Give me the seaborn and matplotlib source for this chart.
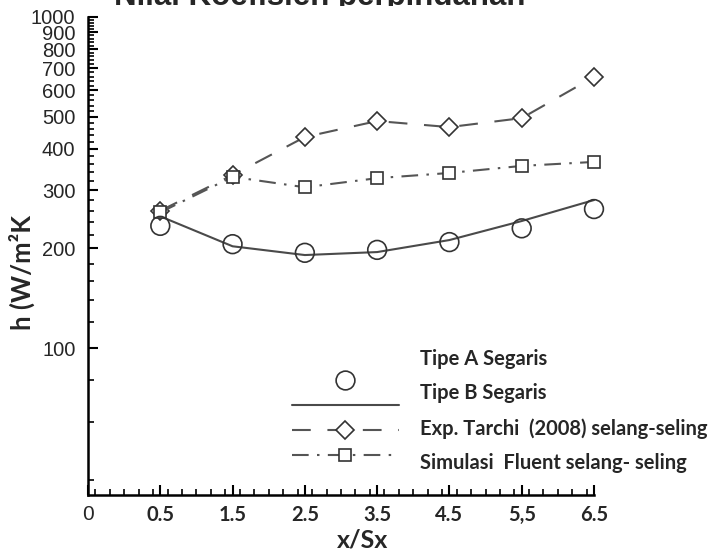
import numpy as np
import matplotlib
matplotlib.use("Agg")
import matplotlib.pyplot as plt
from matplotlib.lines import Line2D
from matplotlib.transforms import Bbox, TransformedBbox
import matplotlib.ticker as mticker
import seaborn as sns

# ---------------- data ----------------
x_vals = [0.5, 1.5, 2.5, 3.5, 4.5, 5.5, 6.5]
tipe_a = [234, 206, 194, 198, 209, 230, 263]          # circles
tipe_b = [250, 203, 191, 195, 212, 242, 280]          # solid line
tarchi = [260, 333, 434, 485, 465, 495, 659]          # diamonds, dashed
fluent = [257, 329, 306, 326, 338, 355, 365]          # squares, dash-dot
tick_pos = [-0.5, 0.5, 1.5, 2.5, 3.5, 4.5, 5.5, 6.5]
tick_labels = ["0", "0.5", "1.5", "2.5", "3.5", "4.5", "5,5", "6.5"]
y_major = [100, 200, 300, 400, 500, 600, 700, 800, 900, 1000]
labels = ["Tipe A Segaris", "Tipe B Segaris",
          "Exp. Tarchi  (2008) selang-seling", "Simulasi  Fluent selang- seling"]
title = "Nilai Koefisien perpindahan"

sns.set_style("ticks")
plt.rcParams['font.family'] = ['Lato', 'DejaVu Sans']

W, H = 714, 556
fig = plt.figure(figsize=(W / 100, H / 100), dpi=100)
ax = fig.add_axes([88 / W, 1 - 495 / H, (594 - 88) / W, (495 - 17) / H])

line_col = "#4a4a4a"
edge_col = "#333333"

sns.scatterplot(x=x_vals, y=tipe_a, ax=ax, marker="o", s=13.5 ** 2,
                facecolor="none", edgecolor=edge_col, linewidth=1.2,
                clip_on=False, zorder=4)
sns.lineplot(x=x_vals, y=tipe_b, ax=ax, color=line_col, linewidth=1.5,
             clip_on=False, zorder=3)
sns.lineplot(x=x_vals, y=tarchi, ax=ax, color="#555555", linewidth=1.5,
             linestyle=(0, (9, 8)), marker="D", markersize=9.5,
             markerfacecolor="white", markeredgecolor=edge_col,
             markeredgewidth=1.2, clip_on=False, zorder=3)
sns.lineplot(x=x_vals, y=fluent, ax=ax, color="#555555", linewidth=1.5,
             linestyle=(0, (8, 4, 1.2, 4)), marker="s", markersize=8.5,
             markerfacecolor="white", markeredgecolor=edge_col,
             markeredgewidth=1.2, clip_on=False, zorder=3)

ax.set_yscale("log")
ax.set_ylim(36, 1000)
ax.set_xlim(-0.5, 6.5)

for s in ["top", "right"]:
    ax.spines[s].set_visible(False)
for s in ["left", "bottom"]:
    ax.spines[s].set_linewidth(1.8)
    ax.spines[s].set_color("black")

ax.set_xticks(tick_pos)
ax.set_xticklabels(tick_labels, fontsize=14.5, fontweight="bold")
ax.xaxis.set_minor_locator(mticker.MultipleLocator(0.2))
ax.get_xticklabels()[0].set_fontfamily("Liberation Sans")
ax.get_xticklabels()[0].set_fontweight("normal")
ax.get_xticklabels()[0].set_fontsize(15)

ax.yaxis.set_major_locator(mticker.FixedLocator(y_major))
ax.yaxis.set_major_formatter(mticker.FixedFormatter([str(v) for v in y_major]))
minor_y = [v for v in range(40, 1000, 20) if v not in y_major]
ax.yaxis.set_minor_locator(mticker.FixedLocator(minor_y))
ax.yaxis.set_minor_formatter(mticker.NullFormatter())
for lab in ax.get_yticklabels():
    lab.set_fontfamily("Liberation Sans")
    lab.set_fontsize(14.5)

ax.tick_params(axis="both", which="major", direction="in", length=7.5,
               width=1.5, color="black")
ax.tick_params(axis="both", which="minor", direction="in", length=4,
               width=1.2, color="black")
ax.tick_params(axis="y", which="major", pad=9)
ax.tick_params(axis="x", which="major", pad=7)

ax.set_xlabel("x/Sx", fontsize=18, fontweight="bold")
ax.xaxis.set_label_coords((363 - 88) / 506, (495 - 529) / 478)
ax.set_ylabel("h (W/m²K", fontsize=18.5, fontweight="bold")
ax.yaxis.set_label_coords((35 - 88) / 506, (495 - 272) / 478)

# legend: handles and texts placed as in the reference
h1 = Line2D([], [], linestyle="none", marker="o", markersize=13.5,
            markerfacecolor="white", markeredgecolor=edge_col, markeredgewidth=1.2)
h2 = Line2D([], [], color=line_col, linewidth=1.5)
h3 = Line2D([], [], color="#555555", linewidth=1.5, linestyle=(0, (9, 8)),
            marker="D", markersize=9.5, markerfacecolor="white",
            markeredgecolor=edge_col, markeredgewidth=1.2)
h4 = Line2D([], [], color="#555555", linewidth=1.5, linestyle=(0, (8, 4, 1.2, 4)),
            marker="s", markersize=8.5, markerfacecolor="white",
            markeredgecolor=edge_col, markeredgewidth=1.2)
leg1 = ax.legend(handles=[h1, h2, h3, h4], labels=[" "] * 4, loc="center",
                 bbox_to_anchor=(347 / W, 1 - 418 / H),
                 bbox_transform=fig.transFigure, frameon=False, fontsize=10,
                 handlelength=7.7, handletextpad=0, labelspacing=0.93,
                 borderpad=0, borderaxespad=0)
ax.add_artist(leg1)
blank = [Line2D([], [], linestyle="none") for _ in labels]
leg2 = ax.legend(handles=blank, labels=labels, loc="center left",
                 bbox_to_anchor=(420 / W, 1 - 411 / H),
                 bbox_transform=fig.transFigure, frameon=False,
                 prop={"family": "Lato", "weight": "bold", "size": 14.5},
                 handlelength=0, handletextpad=0, labelspacing=0.72,
                 borderpad=0, borderaxespad=0)

t = fig.text(320 / W, 1 - 5 / H, title, ha="center", va="baseline",
             fontsize=22.5, fontweight="bold", family="Liberation Sans")
t.set_clip_box(TransformedBbox(Bbox([[0, 1 - 5.5 / H], [1, 1]]), fig.transFigure))
t.set_clip_on(True)

fig.savefig("out.png", dpi=100, facecolor="white")
